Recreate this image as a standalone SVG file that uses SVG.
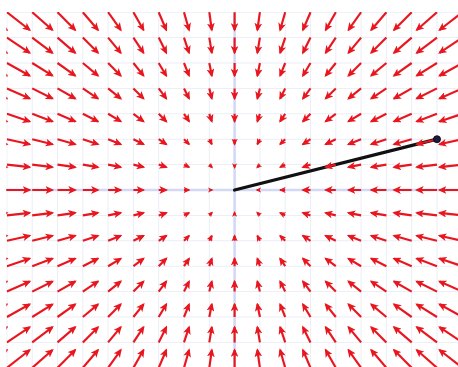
<svg xmlns="http://www.w3.org/2000/svg" width="458" height="367" viewBox="0 0 458 367">
<style>
#grid path{fill:none;stroke:#eceef8;stroke-width:0.04}
#axes path{fill:none;stroke:#d2d8f6;stroke-width:0.1}
#field path{fill:none;stroke:#e8161e;stroke-width:0.085;marker-end:url(#L)}
#field path.m{marker-end:url(#M)}
#field path.s{marker-end:url(#S)}
</style>
<defs>
<clipPath id="view"><rect x="6.5" y="12" width="452" height="355"/></clipPath>
<marker id="L" viewBox="0 0 10 9" refX="8" refY="4.5" markerWidth="4" markerHeight="3.6" markerUnits="strokeWidth" orient="auto"><path d="M0,0L10,4.5L0,9L2.5,4.5Z" fill="#e8161e"/></marker>
<marker id="M" viewBox="0 0 10 9" refX="8" refY="4.5" markerWidth="3.2" markerHeight="2.9" markerUnits="strokeWidth" orient="auto"><path d="M0,0L10,4.5L0,9L2.5,4.5Z" fill="#e8161e"/></marker>
<marker id="S" viewBox="0 0 10 9" refX="7" refY="4.5" markerWidth="2.7" markerHeight="2.6" markerUnits="strokeWidth" orient="auto"><path d="M0,0L10,4.5L0,9L3.5,4.5Z" fill="#e8161e"/></marker>
</defs>
<rect width="458" height="367" fill="#fff"/>
<g clip-path="url(#view)">
<g transform="translate(234.6,190) scale(25.3,25.4)">
<g id="grid"><path d="M-9,-7.1V7.2M-8,-7.1V7.2M-7,-7.1V7.2M-6,-7.1V7.2M-5,-7.1V7.2M-4,-7.1V7.2M-3,-7.1V7.2M-2,-7.1V7.2M-1,-7.1V7.2M1,-7.1V7.2M2,-7.1V7.2M3,-7.1V7.2M4,-7.1V7.2M5,-7.1V7.2M6,-7.1V7.2M7,-7.1V7.2M8,-7.1V7.2M9,-7.1V7.2M-9.1,-7H9.2M-9.1,-6H9.2M-9.1,-5H9.2M-9.1,-4H9.2M-9.1,-3H9.2M-9.1,-2H9.2M-9.1,-1H9.2M-9.1,1H9.2M-9.1,2H9.2M-9.1,3H9.2M-9.1,4H9.2M-9.1,5H9.2M-9.1,6H9.2M-9.1,7H9.2"/></g>
<g id="axes"><path d="M-9.1,0H9.2M0,-7.1V7.2"/></g>
<g id="vector-line"><path d="M0,0L8,-2" fill="none" stroke="#111" stroke-width="0.13" stroke-linecap="round"/></g>
<g id="field">
<path d="M-10,-7L-9,-6.3"/><path d="M-9,-7L-8.1,-6.3"/><path d="M-8,-7L-7.2,-6.3"/><path d="M-7,-7L-6.3,-6.3"/><path d="M-6,-7L-5.4,-6.3"/><path d="M-5,-7L-4.5,-6.3"/><path d="M-4,-7L-3.6,-6.3"/><path d="M-3,-7L-2.7,-6.3"/><path d="M-2,-7L-1.8,-6.3"/><path d="M-1,-7L-.9,-6.3"/><path d="M0,-7L0,-6.3"/><path d="M1,-7L.9,-6.3"/><path d="M2,-7L1.8,-6.3"/><path d="M3,-7L2.7,-6.3"/><path d="M4,-7L3.6,-6.3"/><path d="M5,-7L4.5,-6.3"/><path d="M6,-7L5.4,-6.3"/><path d="M7,-7L6.3,-6.3"/><path d="M8,-7L7.2,-6.3"/><path d="M9,-7L8.1,-6.3"/>
<path d="M-10,-6L-9,-5.4"/><path d="M-9,-6L-8.1,-5.4"/><path d="M-8,-6L-7.2,-5.4"/><path d="M-7,-6L-6.3,-5.4"/><path d="M-6,-6L-5.4,-5.4"/><path d="M-5,-6L-4.5,-5.4"/><path d="M-4,-6L-3.6,-5.4"/><path d="M-3,-6L-2.7,-5.4"/><path d="M-2,-6L-1.8,-5.4"/><path d="M-1,-6L-.9,-5.4"/><path d="M0,-6L0,-5.4"/><path d="M1,-6L.9,-5.4"/><path d="M2,-6L1.8,-5.4"/><path d="M3,-6L2.7,-5.4"/><path d="M4,-6L3.6,-5.4"/><path d="M5,-6L4.5,-5.4"/><path d="M6,-6L5.4,-5.4"/><path d="M7,-6L6.3,-5.4"/><path d="M8,-6L7.2,-5.4"/><path d="M9,-6L8.1,-5.4"/>
<path d="M-10,-5L-9,-4.5"/><path d="M-9,-5L-8.1,-4.5"/><path d="M-8,-5L-7.2,-4.5"/><path d="M-7,-5L-6.3,-4.5"/><path d="M-6,-5L-5.4,-4.5"/><path d="M-5,-5L-4.5,-4.5"/><path d="M-4,-5L-3.6,-4.5"/><path d="M-3,-5L-2.7,-4.5"/><path d="M-2,-5L-1.8,-4.5"/><path d="M-1,-5L-.9,-4.5"/><path d="M0,-5L0,-4.5"/><path d="M1,-5L.9,-4.5"/><path d="M2,-5L1.8,-4.5"/><path d="M3,-5L2.7,-4.5"/><path d="M4,-5L3.6,-4.5"/><path d="M5,-5L4.5,-4.5"/><path d="M6,-5L5.4,-4.5"/><path d="M7,-5L6.3,-4.5"/><path d="M8,-5L7.2,-4.5"/><path d="M9,-5L8.1,-4.5"/>
<path d="M-10,-4L-9,-3.6"/><path d="M-9,-4L-8.1,-3.6"/><path d="M-8,-4L-7.2,-3.6"/><path d="M-7,-4L-6.3,-3.6"/><path d="M-6,-4L-5.4,-3.6"/><path d="M-5,-4L-4.5,-3.6"/><path d="M-4,-4L-3.6,-3.6"/><path d="M-3,-4L-2.7,-3.6"/><path d="M-2,-4L-1.8,-3.6"/><path d="M-1,-4L-.9,-3.6"/><path d="M0,-4L0,-3.6"/><path d="M1,-4L.9,-3.6"/><path d="M2,-4L1.8,-3.6"/><path d="M3,-4L2.7,-3.6"/><path d="M4,-4L3.6,-3.6"/><path d="M5,-4L4.5,-3.6"/><path d="M6,-4L5.4,-3.6"/><path d="M7,-4L6.3,-3.6"/><path d="M8,-4L7.2,-3.6"/><path d="M9,-4L8.1,-3.6"/>
<path d="M-10,-3L-9,-2.7"/><path d="M-9,-3L-8.1,-2.7"/><path d="M-8,-3L-7.2,-2.7"/><path d="M-7,-3L-6.3,-2.7"/><path d="M-6,-3L-5.4,-2.7"/><path d="M-5,-3L-4.5,-2.7"/><path d="M-4,-3L-3.6,-2.7"/><path d="M-3,-3L-2.7,-2.7"/><path d="M-2,-3L-1.8,-2.7"/><path d="M-1,-3L-.9,-2.7"/><path d="M0,-3L0,-2.7"/><path d="M1,-3L.9,-2.7"/><path d="M2,-3L1.8,-2.7"/><path d="M3,-3L2.7,-2.7"/><path d="M4,-3L3.6,-2.7"/><path d="M5,-3L4.5,-2.7"/><path d="M6,-3L5.4,-2.7"/><path d="M7,-3L6.3,-2.7"/><path d="M8,-3L7.2,-2.7"/><path d="M9,-3L8.1,-2.7"/>
<path d="M-10,-2L-9,-1.8"/><path d="M-9,-2L-8.1,-1.8"/><path d="M-8,-2L-7.2,-1.8"/><path d="M-7,-2L-6.3,-1.8"/><path d="M-6,-2L-5.4,-1.8"/><path d="M-5,-2L-4.5,-1.8"/><path d="M-4,-2L-3.6,-1.8"/><path d="M-3,-2L-2.7,-1.8"/><path class="m" d="M-2,-2L-1.8,-1.8"/><path class="m" d="M-1,-2L-.9,-1.8"/><path class="m" d="M0,-2L0,-1.8"/><path class="m" d="M1,-2L.9,-1.8"/><path class="m" d="M2,-2L1.8,-1.8"/><path d="M3,-2L2.7,-1.8"/><path d="M4,-2L3.6,-1.8"/><path d="M5,-2L4.5,-1.8"/><path d="M6,-2L5.4,-1.8"/><path d="M7,-2L6.3,-1.8"/><path d="M8,-2L7.2,-1.8"/><path d="M9,-2L8.1,-1.8"/>
<path d="M-10,-1L-9,-.9"/><path d="M-9,-1L-8.1,-.9"/><path d="M-8,-1L-7.2,-.9"/><path d="M-7,-1L-6.3,-.9"/><path d="M-6,-1L-5.4,-.9"/><path d="M-5,-1L-4.5,-.9"/><path d="M-4,-1L-3.6,-.9"/><path d="M-3,-1L-2.7,-.9"/><path class="m" d="M-2,-1L-1.8,-.9"/><path class="s" d="M-1,-1L-.9,-.9"/><path class="s" d="M0,-1L0,-.9"/><path class="s" d="M1,-1L.9,-.9"/><path class="m" d="M2,-1L1.8,-.9"/><path d="M3,-1L2.7,-.9"/><path d="M4,-1L3.6,-.9"/><path d="M5,-1L4.5,-.9"/><path d="M6,-1L5.4,-.9"/><path d="M7,-1L6.3,-.9"/><path d="M8,-1L7.2,-.9"/><path d="M9,-1L8.1,-.9"/>
<path d="M-10,0L-9,0"/><path d="M-9,0L-8.1,0"/><path d="M-8,0L-7.2,0"/><path d="M-7,0L-6.3,0"/><path d="M-6,0L-5.4,0"/><path d="M-5,0L-4.5,0"/><path d="M-4,0L-3.6,0"/><path d="M-3,0L-2.7,0"/><path class="m" d="M-2,0L-1.8,0"/><path class="s" d="M-1,0L-.9,0"/><path class="s" d="M1,0L.9,0"/><path class="m" d="M2,0L1.8,0"/><path d="M3,0L2.7,0"/><path d="M4,0L3.6,0"/><path d="M5,0L4.5,0"/><path d="M6,0L5.4,0"/><path d="M7,0L6.3,0"/><path d="M8,0L7.2,0"/><path d="M9,0L8.1,0"/>
<path d="M-10,1L-9,.9"/><path d="M-9,1L-8.1,.9"/><path d="M-8,1L-7.2,.9"/><path d="M-7,1L-6.3,.9"/><path d="M-6,1L-5.4,.9"/><path d="M-5,1L-4.5,.9"/><path d="M-4,1L-3.6,.9"/><path d="M-3,1L-2.7,.9"/><path class="m" d="M-2,1L-1.8,.9"/><path class="s" d="M-1,1L-.9,.9"/><path class="s" d="M0,1L0,.9"/><path class="s" d="M1,1L.9,.9"/><path class="m" d="M2,1L1.8,.9"/><path d="M3,1L2.7,.9"/><path d="M4,1L3.6,.9"/><path d="M5,1L4.5,.9"/><path d="M6,1L5.4,.9"/><path d="M7,1L6.3,.9"/><path d="M8,1L7.2,.9"/><path d="M9,1L8.1,.9"/>
<path d="M-10,2L-9,1.8"/><path d="M-9,2L-8.1,1.8"/><path d="M-8,2L-7.2,1.8"/><path d="M-7,2L-6.3,1.8"/><path d="M-6,2L-5.4,1.8"/><path d="M-5,2L-4.5,1.8"/><path d="M-4,2L-3.6,1.8"/><path d="M-3,2L-2.7,1.8"/><path class="m" d="M-2,2L-1.8,1.8"/><path class="m" d="M-1,2L-.9,1.8"/><path class="m" d="M0,2L0,1.8"/><path class="m" d="M1,2L.9,1.8"/><path class="m" d="M2,2L1.8,1.8"/><path d="M3,2L2.7,1.8"/><path d="M4,2L3.6,1.8"/><path d="M5,2L4.5,1.8"/><path d="M6,2L5.4,1.8"/><path d="M7,2L6.3,1.8"/><path d="M8,2L7.2,1.8"/><path d="M9,2L8.1,1.8"/>
<path d="M-10,3L-9,2.7"/><path d="M-9,3L-8.1,2.7"/><path d="M-8,3L-7.2,2.7"/><path d="M-7,3L-6.3,2.7"/><path d="M-6,3L-5.4,2.7"/><path d="M-5,3L-4.5,2.7"/><path d="M-4,3L-3.6,2.7"/><path d="M-3,3L-2.7,2.7"/><path d="M-2,3L-1.8,2.7"/><path d="M-1,3L-.9,2.7"/><path d="M0,3L0,2.7"/><path d="M1,3L.9,2.7"/><path d="M2,3L1.8,2.7"/><path d="M3,3L2.7,2.7"/><path d="M4,3L3.6,2.7"/><path d="M5,3L4.5,2.7"/><path d="M6,3L5.4,2.7"/><path d="M7,3L6.3,2.7"/><path d="M8,3L7.2,2.7"/><path d="M9,3L8.1,2.7"/>
<path d="M-10,4L-9,3.6"/><path d="M-9,4L-8.1,3.6"/><path d="M-8,4L-7.2,3.6"/><path d="M-7,4L-6.3,3.6"/><path d="M-6,4L-5.4,3.6"/><path d="M-5,4L-4.5,3.6"/><path d="M-4,4L-3.6,3.6"/><path d="M-3,4L-2.7,3.6"/><path d="M-2,4L-1.8,3.6"/><path d="M-1,4L-.9,3.6"/><path d="M0,4L0,3.6"/><path d="M1,4L.9,3.6"/><path d="M2,4L1.8,3.6"/><path d="M3,4L2.7,3.6"/><path d="M4,4L3.6,3.6"/><path d="M5,4L4.5,3.6"/><path d="M6,4L5.4,3.6"/><path d="M7,4L6.3,3.6"/><path d="M8,4L7.2,3.6"/><path d="M9,4L8.1,3.6"/>
<path d="M-10,5L-9,4.5"/><path d="M-9,5L-8.1,4.5"/><path d="M-8,5L-7.2,4.5"/><path d="M-7,5L-6.3,4.5"/><path d="M-6,5L-5.4,4.5"/><path d="M-5,5L-4.5,4.5"/><path d="M-4,5L-3.6,4.5"/><path d="M-3,5L-2.7,4.5"/><path d="M-2,5L-1.8,4.5"/><path d="M-1,5L-.9,4.5"/><path d="M0,5L0,4.5"/><path d="M1,5L.9,4.5"/><path d="M2,5L1.8,4.5"/><path d="M3,5L2.7,4.5"/><path d="M4,5L3.6,4.5"/><path d="M5,5L4.5,4.5"/><path d="M6,5L5.4,4.5"/><path d="M7,5L6.3,4.5"/><path d="M8,5L7.2,4.5"/><path d="M9,5L8.1,4.5"/>
<path d="M-10,6L-9,5.4"/><path d="M-9,6L-8.1,5.4"/><path d="M-8,6L-7.2,5.4"/><path d="M-7,6L-6.3,5.4"/><path d="M-6,6L-5.4,5.4"/><path d="M-5,6L-4.5,5.4"/><path d="M-4,6L-3.6,5.4"/><path d="M-3,6L-2.7,5.4"/><path d="M-2,6L-1.8,5.4"/><path d="M-1,6L-.9,5.4"/><path d="M0,6L0,5.4"/><path d="M1,6L.9,5.4"/><path d="M2,6L1.8,5.4"/><path d="M3,6L2.7,5.4"/><path d="M4,6L3.6,5.4"/><path d="M5,6L4.5,5.4"/><path d="M6,6L5.4,5.4"/><path d="M7,6L6.3,5.4"/><path d="M8,6L7.2,5.4"/><path d="M9,6L8.1,5.4"/>
<path d="M-10,7L-9,6.3"/><path d="M-9,7L-8.1,6.3"/><path d="M-8,7L-7.2,6.3"/><path d="M-7,7L-6.3,6.3"/><path d="M-6,7L-5.4,6.3"/><path d="M-5,7L-4.5,6.3"/><path d="M-4,7L-3.6,6.3"/><path d="M-3,7L-2.7,6.3"/><path d="M-2,7L-1.8,6.3"/><path d="M-1,7L-.9,6.3"/><path d="M0,7L0,6.3"/><path d="M1,7L.9,6.3"/><path d="M2,7L1.8,6.3"/><path d="M3,7L2.7,6.3"/><path d="M4,7L3.6,6.3"/><path d="M5,7L4.5,6.3"/><path d="M6,7L5.4,6.3"/><path d="M7,7L6.3,6.3"/><path d="M8,7L7.2,6.3"/><path d="M9,7L8.1,6.3"/>
</g>
<g id="point"><ellipse cx="8" cy="-2" rx="0.14" ry="0.14" fill="#1a1a44" stroke="#000" stroke-width="0.03"/></g>
</g>
</g>
</svg>
